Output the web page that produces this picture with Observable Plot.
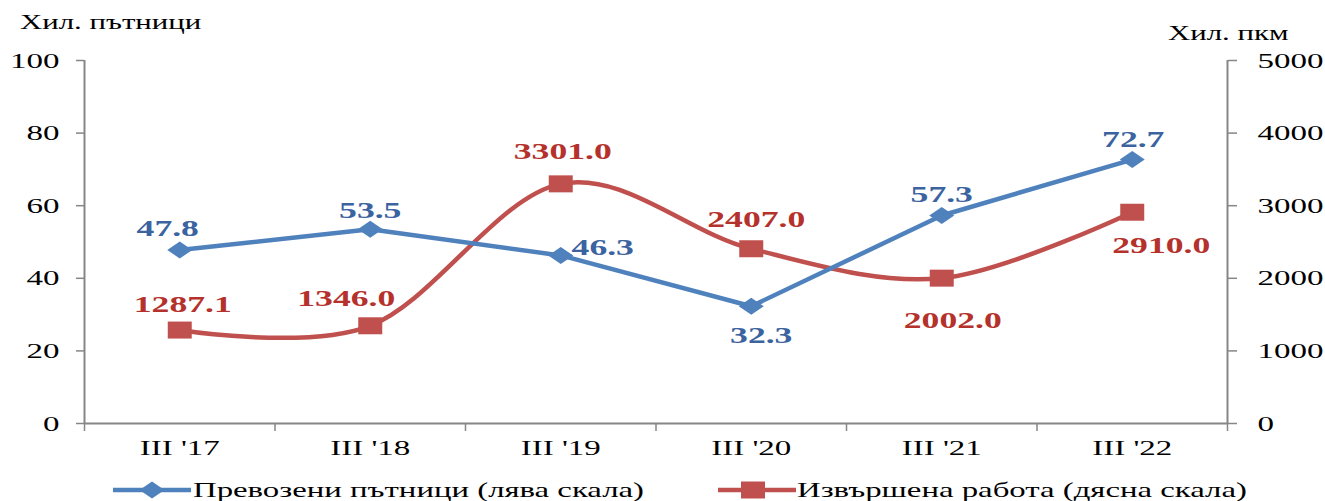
<!DOCTYPE html>
<html>
<head>
<meta charset="utf-8">
<script src="https://cdn.jsdelivr.net/npm/d3@7"></script>
<script src="https://cdn.jsdelivr.net/npm/@observablehq/plot@0.6"></script>
<style>
  body { margin: 0; background: #fff; }
  #wrap { position: relative; width: 1325px; height: 501px; font-family: "Liberation Serif", "Times New Roman", serif; }
  .t { position: absolute; font-size: 22px; line-height: 24px; white-space: nowrap; transform-origin: left center; transform: scaleX(1.4); color: #000; }
  #chart { position: absolute; left: 0; top: 40px; }
  .leg { position: absolute; top: 478px; height: 24px; }
  .leg svg { position: absolute; left: 0; top: 0; }
  .leg span { position: absolute; top: 0; font-size: 22px; line-height: 24px; white-space: nowrap; transform-origin: left center; transform: scaleX(1.49); }
</style>
</head>
<body>
<div id="wrap">
  <div class="t" style="left:20px;top:10px">Хил. пътници</div>
  <div class="t" style="left:1168px;top:21px">Хил. пкм</div>
  <div id="chart"></div>
  <div class="leg" style="left:113px;">
    <svg width="80" height="24"><line x1="0" y1="12" x2="78" y2="12" stroke="#4F81BD" stroke-width="4.5"/><path d="M39,3.5L51.5,12L39,20.5L26.5,12Z" fill="#4F81BD"/></svg>
    <span style="left:80px">Превозени пътници (лява скала)</span>
  </div>
  <div class="leg" style="left:718px;">
    <svg width="80" height="24"><line x1="0" y1="12" x2="78" y2="12" stroke="#C0504D" stroke-width="4.5"/><rect x="23" y="3.5" width="24" height="17" fill="#C0504D"/></svg>
    <span style="left:79px">Извършена работа (дясна скала)</span>
  </div>
</div>
<script>
// ---- data ----
const categories = ["III '17", "III '18", "III '19", "III '20", "III '21", "III '22"];
const passengers = [47.8, 53.5, 46.3, 32.3, 57.3, 72.7];          // left scale, thousand passengers
const work = [1287.1, 1346.0, 3301.0, 2407.0, 2002.0, 2910.0];    // right scale, thousand pkm
const leftTicks = [0, 20, 40, 60, 80, 100];
const rightTicks = [0, 1000, 2000, 3000, 4000, 5000];
// label offsets (style)
const pDx = [-12, 0, 42, 10, 0, 1];
const pDy = [-21, -19, -8, 29, -21, -20];
const wDx = [3, -24, 2, 5, 11, 29];
const wDy = [-25, -27, -32, -29, 42, 33];

const ratio = 50; // right scale / left scale
const rows = categories.map((c, i) => ({
  i, x: i + 0.5, cat: c, p: passengers[i], w: work[i],
  pdx: pDx[i], pdy: pDy[i], wdx: wDx[i], wdy: wDy[i]
}));

const blue = "#4F81BD", red = "#C0504D", axisGray = "#868686";
const blueText = "#3A63A0", redText = "#B5322C";

const wideDiamond = { draw(ctx) { ctx.moveTo(0, -8.5); ctx.lineTo(12.5, 0); ctx.lineTo(0, 8.5); ctx.lineTo(-12.5, 0); ctx.closePath(); } };
const wideSquare = { draw(ctx) { ctx.rect(-12, -8.5, 24, 17); } };

const labelMarks = (yAcc, txt, dxKey, dyKey, color) =>
  rows.map(r => Plot.text([r], {
    x: "x", y: yAcc, text: txt, dx: r[dxKey], dy: r[dyKey],
    fill: color, fontWeight: "bold", fontSize: 23, textAnchor: "middle",
    fontFamily: "Liberation Serif", className: "dlabel"
  }));

const chart = Plot.plot({
  width: 1325,
  height: 430,
  marginLeft: 84,
  marginRight: 98,
  marginTop: 20,
  marginBottom: 47,
  style: { fontFamily: "Liberation Serif", fontSize: "22px", background: "white", color: "black", overflow: "visible" },
  x: { type: "linear", domain: [0, 6] },
  y: { domain: [0, 100] },
  marks: [
    Plot.axisY({ anchor: "left", ticks: leftTicks, tickSize: 8, tickPadding: 17, stroke: axisGray, strokeWidth: 1.5, fill: "black", fontSize: 22, label: null }),
    Plot.axisY({ anchor: "right", ticks: leftTicks, tickSize: 9, tickPadding: 21, stroke: axisGray, strokeWidth: 1.5, fill: "black", fontSize: 22, label: null, tickFormat: d => String(d * ratio) }),
    Plot.axisX({ ticks: d3.range(0, 7), tickSize: 8, tickFormat: () => "", stroke: axisGray, strokeWidth: 1.5, label: null }),
    Plot.axisX({ ticks: rows.map(r => r.x), tickSize: 0, tickPadding: 16, tickFormat: d => categories[Math.round(d - 0.5)], fill: "black", fontSize: 22, label: null }),
    Plot.ruleX([0, 6], { stroke: axisGray, strokeWidth: 2 }),
    Plot.ruleY([0], { stroke: axisGray, strokeWidth: 2 }),
    Plot.line(rows, { x: "x", y: d => d.w / ratio, stroke: red, strokeWidth: 4.5, curve: "cardinal" }),
    Plot.line(rows, { x: "x", y: "p", stroke: blue, strokeWidth: 4.5 }),
    Plot.dot(rows, { x: "x", y: d => d.w / ratio, symbol: wideSquare, fill: red, stroke: "none" }),
    Plot.dot(rows, { x: "x", y: "p", symbol: wideDiamond, fill: blue, stroke: "none" }),
    ...labelMarks("p", d => d.p.toFixed(1), "pdx", "pdy", blueText),
    ...labelMarks(d => d.w / ratio, d => d.w.toFixed(1), "wdx", "wdy", redText)
  ]
});

// Horizontal stretch of text (the reference is drawn with widened glyphs)
chart.querySelectorAll("text").forEach(t => {
  const s = t.closest(".dlabel") ? 1.55 : 1.5;
  const tr = t.getAttribute("transform");
  if (tr) {
    t.setAttribute("transform", tr + ` scale(${s},1)`);
  } else {
    const x = +(t.getAttribute("x") || 0), y = +(t.getAttribute("y") || 0);
    t.removeAttribute("x"); t.removeAttribute("y");
    t.setAttribute("transform", `translate(${x},${y}) scale(${s},1)`);
  }
});
document.getElementById("chart").appendChild(chart);
</script>
</body>
</html>
